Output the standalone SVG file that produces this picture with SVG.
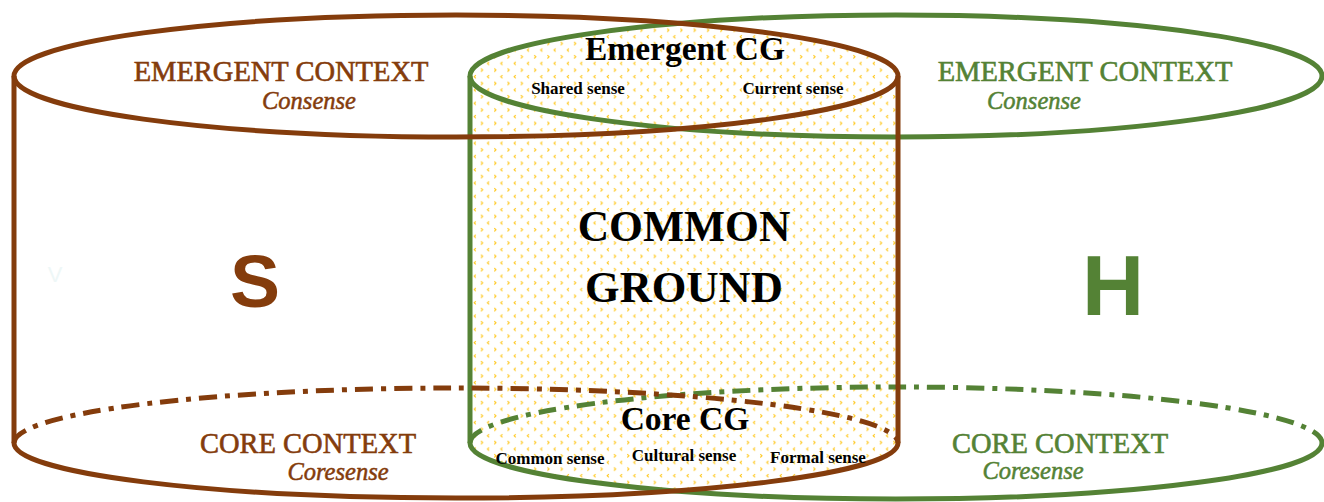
<svg xmlns="http://www.w3.org/2000/svg" width="1324" height="502" viewBox="0 0 1324 502">
  <style>
    .brown { fill: none; stroke: #843C0C; stroke-width: 5; }
    .green { fill: none; stroke: #548235; stroke-width: 5; }
    .dash { stroke-dasharray: 18 8 5 8; }
    .serif { font-family: "Liberation Serif", "Times New Roman", serif; }
    .ctx { font-size: 28.5px; text-anchor: middle; stroke-width: 0.6; }
    .sub { font-size: 24.5px; font-style: italic; text-anchor: middle; stroke-width: 0.5; }
    .cg { font-weight: bold; fill: #000; text-anchor: middle; }
    .small { font-size: 17px; font-weight: bold; fill: #000; text-anchor: middle; }
    .tb { fill: #843C0C; stroke: #843C0C; }
    .tg { fill: #548235; stroke: #548235; }
    .big { font-family: "Liberation Sans", Arial, sans-serif; font-weight: bold; text-anchor: middle; stroke: none; }
  </style>
  <defs>
    <!-- small yellow chevron texture for the shared region -->
    <pattern id="chevrons" width="13.3" height="13.3" patternUnits="userSpaceOnUse">
      <polyline points="2.2,2 3.8,3.6 2.2,5.2" fill="none" stroke="#FFC000" stroke-width="1.1" opacity="0.9"/>
      <polyline points="10.3,8.6 8.7,10.2 10.3,11.8" fill="none" stroke="#FFC000" stroke-width="1.1" opacity="0.9"/>
    </pattern>
    <clipPath id="clipS">
      <path d="M14,76 A442,61 0 0 1 898,76 L898,443 A442,55 0 0 1 14,443 Z"/>
    </clipPath>
  </defs>

  <!-- overlap of both cylinders: common ground -->
  <g id="overlap" clip-path="url(#clipS)">
    <path d="M470,76 A426,61 0 0 1 1322,76 L1322,443 A426,56 0 0 1 470,443 Z" fill="url(#chevrons)"/>
  </g>

  <g id="connectors">
    <!-- hearer cylinder -->
    <g id="cylH">
      <ellipse class="green" cx="896" cy="76" rx="426" ry="61"/>
      <line class="green" x1="470" y1="76" x2="470" y2="443"/>
      <path class="green" d="M1322,443 A426,56 0 0 1 470,443"/>
      <path class="green dash" d="M470,443 A426,56 0 0 1 1322,443"/>
    </g>
    <!-- speaker cylinder -->
    <g id="cylS">
      <ellipse class="brown" cx="456" cy="76" rx="442" ry="61"/>
      <line class="brown" x1="14" y1="76" x2="14" y2="443"/>
      <line class="brown" x1="898" y1="76" x2="898" y2="443"/>
      <path class="brown" d="M898,443 A442,55 0 0 1 14,443"/>
      <path class="brown dash" d="M14,443 A442,55 0 0 1 898,443"/>
    </g>
  </g>

  <g id="speaker-emergent">
    <text class="serif ctx tb" x="281" y="81">EMERGENT CONTEXT</text>
    <text class="serif sub tb" x="309" y="109">Consense</text>
  </g>
  <g id="hearer-emergent">
    <text class="serif ctx tg" x="1085" y="81">EMERGENT CONTEXT</text>
    <text class="serif sub tg" x="1034" y="109">Consense</text>
  </g>
  <g id="emergent-cg">
    <text class="serif cg" x="685" y="60" font-size="33.5">Emergent CG</text>
    <text class="serif small" x="578" y="94">Shared sense</text>
    <text class="serif small" x="793" y="94">Current sense</text>
  </g>
  <g id="common-ground">
    <text class="serif cg" x="684" y="241" font-size="43.5">COMMON</text>
    <text class="serif cg" x="684" y="302" font-size="44.5">GROUND</text>
  </g>
  <g id="speaker">
    <text class="big tb" x="255" y="307" font-size="75">S</text>
    <text x="55" y="282" font-family="Liberation Sans, Arial, sans-serif" font-size="22" fill="#eef7f7" text-anchor="middle">V</text>
  </g>
  <g id="hearer">
    <text class="big tg" x="1113" y="315" font-size="86">H</text>
  </g>
  <g id="core-cg">
    <text class="serif cg" x="685" y="430" font-size="33.5">Core CG</text>
    <text class="serif small" x="550" y="464">Common sense</text>
    <text class="serif small" x="684" y="461">Cultural sense</text>
    <text class="serif small" x="818" y="463">Formal sense</text>
  </g>
  <g id="speaker-core">
    <text class="serif ctx tb" x="308" y="453">CORE CONTEXT</text>
    <text class="serif sub tb" x="338" y="480">Coresense</text>
  </g>
  <g id="hearer-core">
    <text class="serif ctx tg" x="1060" y="453">CORE CONTEXT</text>
    <text class="serif sub tg" x="1033" y="479">Coresense</text>
  </g>
</svg>
